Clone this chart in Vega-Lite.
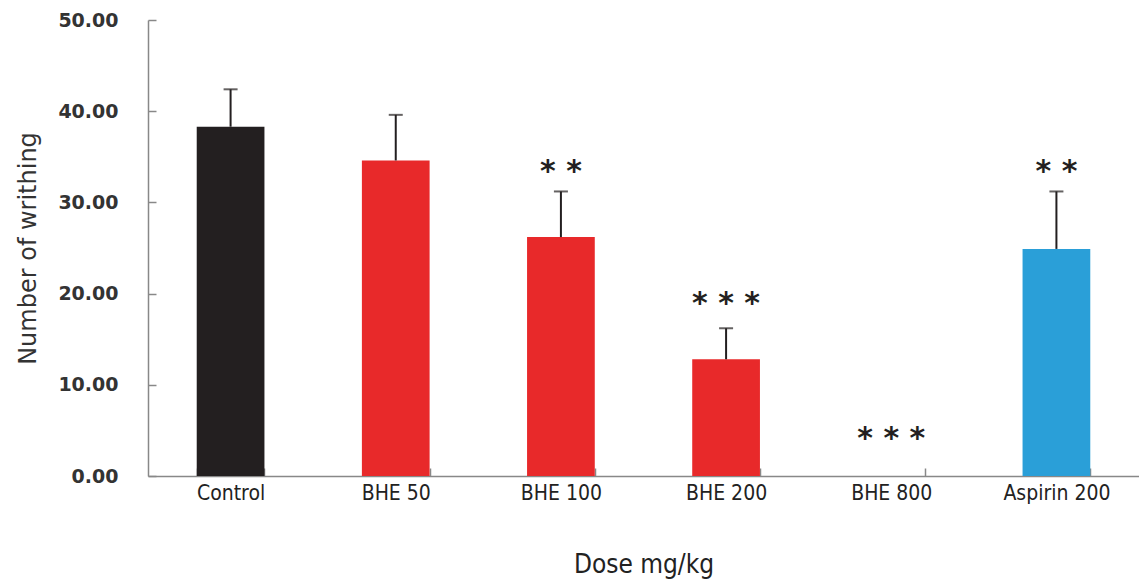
{
  "$schema": "https://vega.github.io/schema/vega-lite/v6.json",
  "width": 991,
  "height": 456,
  "autosize": {"type": "none"},
  "padding": {"left": 148, "top": 20, "right": 0, "bottom": 108},
  "background": "white",
  "config": {"view": {"stroke": null}},
  "data": {
    "values": [
      {"group": "Control", "mean": 38.3, "upper": 42.4, "sig": "", "sigY": 0, "kind": "control"},
      {"group": "BHE 50", "mean": 34.6, "upper": 39.6, "sig": "", "sigY": 0, "kind": "bhe"},
      {"group": "BHE 100", "mean": 26.2, "upper": 31.2, "sig": "* *", "sigY": 33.3, "kind": "bhe"},
      {"group": "BHE 200", "mean": 12.8, "upper": 16.2, "sig": "* * *", "sigY": 18.9, "kind": "bhe"},
      {"group": "BHE 800", "mean": 0, "upper": 0, "sig": "* * *", "sigY": 4.1, "kind": "bhe"},
      {"group": "Aspirin 200", "mean": 24.9, "upper": 31.2, "sig": "* *", "sigY": 33.3, "kind": "aspirin"}
    ]
  },
  "encoding": {
    "x": {
      "field": "group",
      "type": "nominal",
      "sort": null,
      "scale": {"paddingInner": 0.59, "paddingOuter": 0.295},
      "axis": {
        "title": "Dose mg/kg",
        "titleFont": "Liberation Sans Narrow, DejaVu Sans Condensed, sans-serif",
        "titleFontSize": 26,
        "titleFontWeight": "normal",
        "titleColor": "#222",
        "titlePadding": 48,
        "labelFont": "Liberation Sans Narrow, DejaVu Sans Condensed, sans-serif",
        "labelFontSize": 21,
        "labelColor": "#222",
        "labelAngle": 0,
        "labelPadding": 14,
        "domainColor": "#888",
        "domainWidth": 1.5,
        "tickColor": "#888",
        "tickWidth": 1.5,
        "tickSize": -8,
        "tickBand": "extent"
      }
    }
  },
  "layer": [
    {
      "mark": {"type": "bar"},
      "encoding": {
        "y": {
          "field": "mean",
          "type": "quantitative",
          "scale": {"domain": [0, 50], "nice": false},
          "axis": {
            "title": "Number of writhing",
            "titleFont": "DejaVu Sans",
            "titleFontSize": 24,
            "titleFontWeight": "normal",
            "titleColor": "#333",
            "titlePadding": 17,
            "values": [0, 10, 20, 30, 40, 50],
            "format": ".2f",
            "labelFont": "DejaVu Sans",
            "labelFontSize": 19,
            "labelFontWeight": "bold",
            "labelColor": "#333",
            "labelPadding": 38,
            "domainColor": "#888",
            "domainWidth": 1.5,
            "tickColor": "#888",
            "tickWidth": 1.5,
            "tickSize": -8,
            "grid": false
          }
        },
        "color": {
          "field": "kind",
          "type": "nominal",
          "scale": {"domain": ["control", "bhe", "aspirin"], "range": ["#231f20", "#e8292a", "#2a9fd8"]},
          "legend": null
        }
      }
    },
    {
      "transform": [{"filter": "datum.upper > datum.mean"}],
      "mark": {"type": "rule", "color": "#231f20", "strokeWidth": 2},
      "encoding": {
        "y": {"field": "mean", "type": "quantitative"},
        "y2": {"field": "upper"}
      }
    },
    {
      "transform": [{"filter": "datum.upper > datum.mean"}],
      "mark": {"type": "tick", "color": "#231f20", "thickness": 2, "size": 14},
      "encoding": {
        "y": {"field": "upper", "type": "quantitative"}
      }
    },
    {
      "transform": [{"filter": "datum.sig != ''"}],
      "mark": {"type": "text", "font": "DejaVu Sans", "fontSize": 30, "fontWeight": "bold", "color": "#231f20", "baseline": "middle"},
      "encoding": {
        "y": {"field": "sigY", "type": "quantitative"},
        "text": {"field": "sig"}
      }
    }
  ]
}
